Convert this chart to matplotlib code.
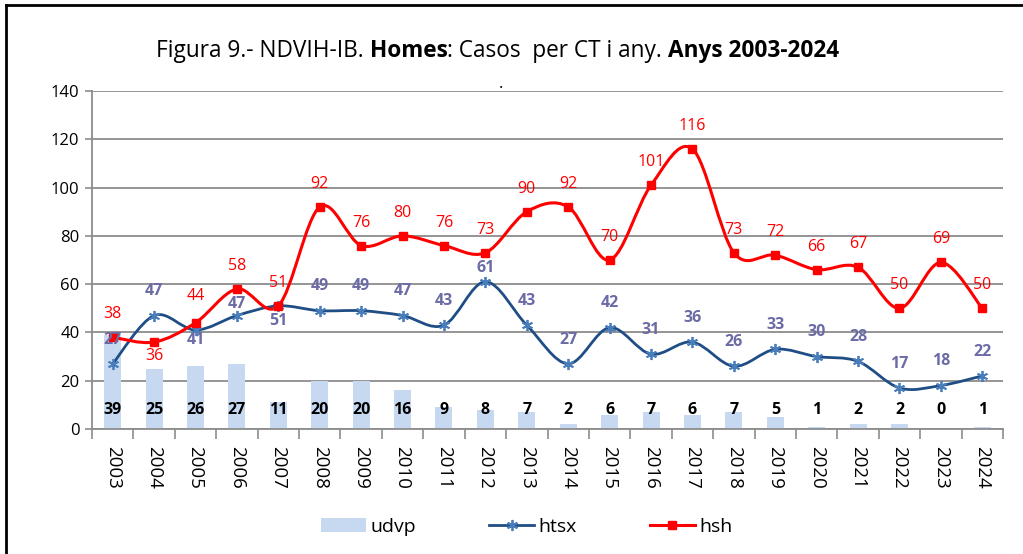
import numpy as np
import matplotlib
matplotlib.use('Agg')
import matplotlib.pyplot as plt
from matplotlib.path import Path
from matplotlib.patches import PathPatch, Patch
from matplotlib.lines import Line2D

plt.rcParams['font.family'] = ['Open Sans', 'DejaVu Sans']

years = [str(y) for y in range(2003, 2025)]
udvp = [39, 25, 26, 27, 11, 20, 20, 16, 9, 8, 7, 2, 6, 7, 6, 7, 5, 1, 2, 2, 0, 1]
htsx = [27, 47, 41, 47, 51, 49, 49, 47, 43, 61, 43, 27, 42, 31, 36, 26, 33, 30, 28, 17, 18, 22]
hsh = [38, 36, 44, 58, 51, 92, 76, 80, 76, 73, 90, 92, 70, 101, 116, 73, 72, 66, 67, 50, 69, 50]

# label offsets (points) that differ from the default "above" placement
htsx_off = {'2005': -7, '2007': -11, '2006': 8, '2012': 10}
hsh_off = {'2004': -10, '2005': 19}

C_BAR = '#C6D9F1'
C_HTSX = '#1F4E86'
C_HTSX_MK = '#4A7EBB'
C_HTSX_LBL = '#6B6BA6'
C_HSH = '#FF0000'
C_GRID = '#8C8C8C'


def smooth_path(xs, ys):
    # Excel-style smoothed line: cubic bezier through the points
    pts = np.column_stack([xs, ys]).astype(float)
    n = len(pts)
    verts = [pts[0]]
    codes = [Path.MOVETO]
    for i in range(n - 1):
        p0 = pts[i - 1] if i > 0 else pts[i]
        p1, p2 = pts[i], pts[i + 1]
        p3 = pts[i + 2] if i + 2 < n else pts[i + 1]
        c1 = p1 + (p2 - p0) / 6.0
        c2 = p2 - (p3 - p1) / 6.0
        verts += [c1, c2, p2]
        codes += [Path.CURVE4] * 3
    return Path(verts, codes)


fig = plt.figure(figsize=(10.23, 5.54), dpi=100)
ax = fig.add_axes([92 / 1023, 1 - 429 / 554, (1003 - 92) / 1023, (429 - 91) / 554])

x = np.arange(len(years))
ax.bar(x, udvp, width=0.41, color=C_BAR, zorder=2)

ax.add_patch(PathPatch(smooth_path(x, htsx), fill=False, edgecolor=C_HTSX, lw=2, zorder=3))
ax.plot(x, htsx, ls='none', marker=(6, 2, 0), ms=8, mew=1.3, color=C_HTSX_MK, zorder=4)
ax.add_patch(PathPatch(smooth_path(x, hsh), fill=False, edgecolor=C_HSH, lw=2.2, zorder=3))
ax.plot(x, hsh, ls='none', marker='s', ms=6, color=C_HSH, zorder=4)

for i, yr in enumerate(years):
    ax.text(i, 8, str(udvp[i]), ha='center', va='center', fontsize=11.5,
            fontweight='bold', color='black', zorder=5)
    ax.annotate(str(htsx[i]), (i, htsx[i]), xytext=(0, htsx_off.get(yr, 17.5)),
                textcoords='offset points', ha='center', va='center', fontsize=11.5,
                fontweight='bold', color=C_HTSX_LBL, zorder=5)
    ax.annotate(str(hsh[i]), (i, hsh[i]), xytext=(0, hsh_off.get(yr, 16.5)),
                textcoords='offset points', ha='center', va='center', fontsize=11.5,
                color=C_HSH, zorder=5)

ax.set_xlim(-0.5, len(years) - 0.5)
ax.set_ylim(0, 140)
ax.set_yticks(range(0, 141, 20))
ax.tick_params(axis='y', labelsize=12, length=5, color=C_GRID, width=1.2, pad=4)
ax.set_xticks(x)
ax.set_xticklabels(years, rotation=270, fontsize=13.5)
ax.tick_params(axis='x', which='major', length=0, pad=12)
ax.set_xticks(np.arange(-0.5, len(years), 1), minor=True)
ax.tick_params(axis='x', which='minor', length=7, color=C_GRID, width=1.2)
ax.grid(axis='y', color=C_GRID, lw=1.3, zorder=0)
ax.set_axisbelow(True)
for s in ['top', 'right']:
    ax.spines[s].set_visible(False)
for s in ['left', 'bottom']:
    ax.spines[s].set_color(C_GRID)
    ax.spines[s].set_linewidth(1.3)

# title with bold pieces, each chained to the end of the previous one
parts = [('Figura 9.- NDVIH-IB. ', 'normal'), ('Homes', 'bold'),
         (': Casos  per CT i any. ', 'normal'), ('Anys 2003-2024', 'bold')]
prev = fig.text(156 / 1023, 1 - 63 / 554, parts[0][0], fontsize=16.3,
                fontweight=parts[0][1], va='bottom', ha='left')
for txt, wt in parts[1:]:
    prev = ax.annotate(txt, xy=(1, 0), xycoords=prev, fontsize=16.3, fontweight=wt,
                       va='bottom', ha='left', annotation_clip=False)
fig.text(501 / 1023, 1 - 84 / 554, '.', fontsize=12, ha='center', va='center')

# border lines at top and left
fig.add_artist(Line2D([6 / 1023, 1], [1 - 5 / 554, 1 - 5 / 554], color='black', lw=2,
                      transform=fig.transFigure))
fig.add_artist(Line2D([6 / 1023, 6 / 1023], [0, 1 - 5 / 554], color='black', lw=2,
                      transform=fig.transFigure))

handles = [Patch(facecolor=C_BAR, edgecolor='none'),
           Line2D([], [], color=C_HTSX, lw=2, marker=(6, 2, 0), ms=8, mec=C_HTSX_MK, mew=1.3),
           Line2D([], [], color=C_HSH, lw=2.2, marker='s', ms=6)]
fig.legend(handles, ['udvp', 'htsx', 'hsh'], loc='center', bbox_to_anchor=(527 / 1023, 1 - 527 / 554),
           ncol=3, frameon=False, fontsize=14, handlelength=2.3, handletextpad=0.25,
           columnspacing=3.75)

fig.savefig('out.png', dpi=100)
